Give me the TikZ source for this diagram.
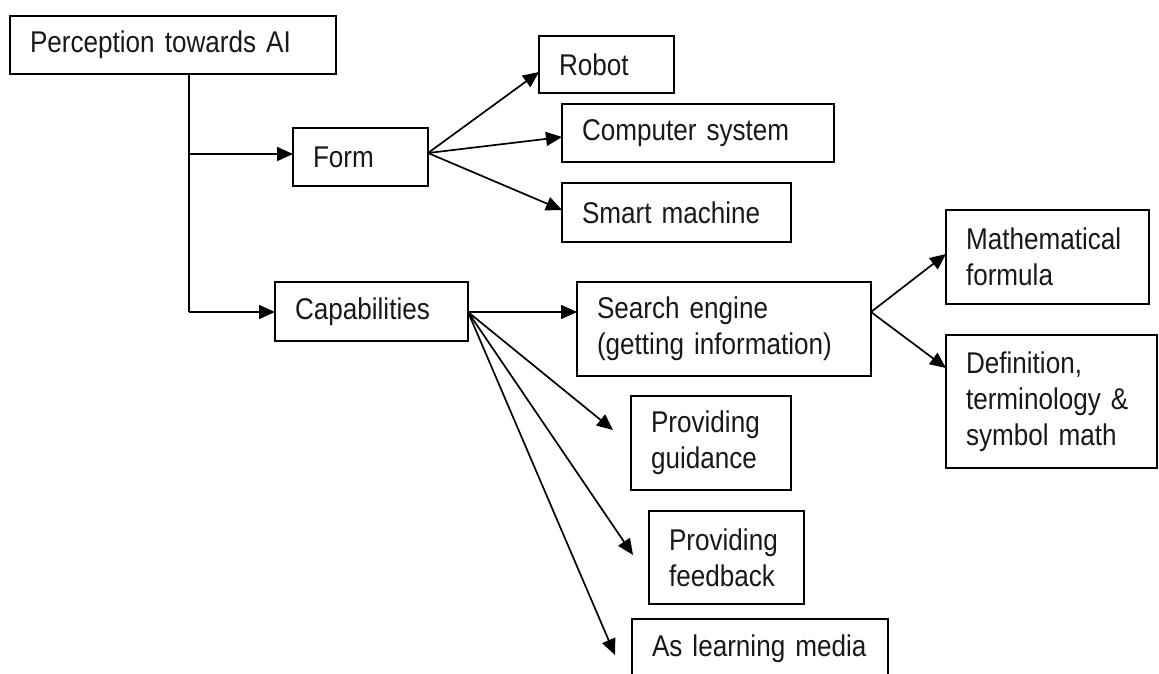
\documentclass[tikz,border=0pt]{standalone}
\usepackage{fontspec}
\setmainfont{Liberation Sans}[FakeStretch=0.87]
\usetikzlibrary{arrows.meta,calc}
\tikzset{
  boxnode/.style={draw, line width=1.7pt, rectangle, anchor=north west, outer sep=0pt,
    inner xsep=20pt, inner ysep=0pt, align=left, text=black!90,
    font=\fontsize{30}{36}\selectfont},
  arr/.style={line width=1.7pt, -{Triangle[length=16pt,width=14pt]}},
  plain/.style={line width=1.7pt}
}
\newcommand{\bx}[7]{% name, x, y, w, h, text width, text
  \node[boxnode, minimum width=#4pt, minimum height=#5pt, text width=#6pt] (#1) at (#2,#3) {#7};}
\begin{document}
\begin{tikzpicture}[x=1pt,y=-1pt]
\useasboundingbox (0,0) rectangle (1159,673);
\clip (0,0) rectangle (1159,673);
\bx{per}{10}{16}{326}{58}{286}{Perception towards AI}
\bx{form}{293}{128}{135}{58}{95}{Form}
\bx{cap}{275}{282}{193}{59}{153}{Capabilities}
\bx{robot}{539}{36}{135}{57}{95}{Robot}
\bx{comp}{562}{104}{272}{58}{232}{Computer system}
\bx{smart}{562}{183}{229}{59}{189}{Smart machine}
\bx{search}{577}{282}{294}{94}{254}{Search engine\\(getting information)}
\bx{guid}{631}{396}{160}{94}{120}{Providing\\guidance}
\bx{feed}{649}{511}{155}{93}{115}{Providing\\feedback}
\bx{learn}{632}{619}{256}{60}{216}{As learning media}
\bx{math}{946}{210}{203}{94}{163}{Mathematical\\formula}
\bx{def}{946}{335}{211}{133}{171}{Definition,\\terminology \&\\symbol math}

% trunk
\coordinate (top) at ($(per.south west)+(179,0)$);
\coordinate (formin) at ($(form.north west)+(0,26)$);
\coordinate (capin) at ($(cap.north west)+(0,30)$);
\draw[plain] (top) -- (top |- capin);
\draw[arr] (top |- formin) -- (formin);
\draw[arr] (top |- capin) -- (capin);

% form branches
\coordinate (fo) at ($(form.north east)+(0,25)$);
\draw[arr] (fo) -- ($(robot.north west)+(0,36)$);
\draw[arr] (fo) -- ($(comp.north west)+(0,33)$);
\draw[arr] (fo) -- ($(smart.north west)+(0,27)$);

% capabilities branches
\coordinate (co) at ($(cap.north east)+(0,30)$);
\coordinate (tg) at (613,430);
\coordinate (tf) at (633,555);
\coordinate (tl) at (615,655);
\draw[arr] (co) -- ($(search.north west)+(0,30)$);
\draw[arr] (co) -- (tg);
\draw[arr] (co) -- (tf);
\draw[arr] (co) -- (tl);

% search branches
\coordinate (so) at ($(search.north east)+(0,30)$);
\draw[arr] (so) -- ($(math.north west)+(0,44)$);
\draw[arr] (so) -- ($(def.north west)+(0,33)$);
\end{tikzpicture}
\end{document}
